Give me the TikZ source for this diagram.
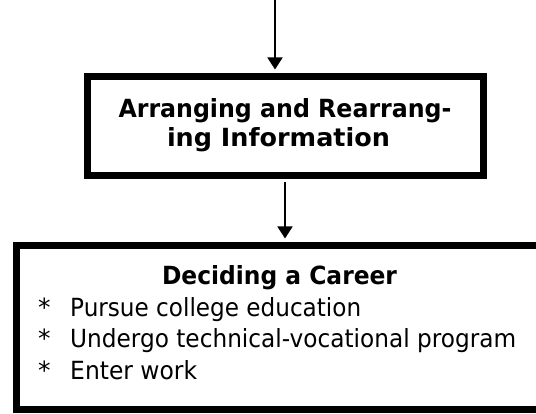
\documentclass[tikz,border=0pt]{standalone}
\usepackage{graphicx}
\usepackage{fontspec}
\setmainfont{DejaVu Sans}
\usetikzlibrary{arrows.meta}
\newlength\fitlen
\newcommand\fitw[2]{\settowidth\fitlen{#2}\pgfmathsetmacro\fitratio{#1/\fitlen}\scalebox{\fitratio}[1]{#2}}
\tikzset{
  thickbox/.style={draw=black, line width=7pt, inner sep=0pt},
  arr/.style={line width=1.7pt, -{Triangle[width=15pt,length=12pt]}},
  headtxt/.style={font=\fontsize{25}{31}\selectfont\bfseries, inner sep=0pt},
  itemtxt/.style={font=\fontsize{25}{31}\selectfont, inner sep=0pt, anchor=base west},
}
\begin{document}
\begin{tikzpicture}[x=1pt,y=-1pt]
\useasboundingbox (0,0) rectangle (536,414);
\coordinate (start) at (275,0);
\node[thickbox, minimum width=396pt, minimum height=99pt] (b1) at (285.5,126) {};
\node[thickbox, minimum width=540pt, minimum height=164pt] (b2) at (286,327.5) {};
\node[headtxt, anchor=base] (l1) at (285,118) {\fitw{333}{Arranging and Rearrang-}};
\node[headtxt, anchor=base] (l2) at (278.5,147) {\fitw{223}{ing Information}};
\draw[arr] (start) -- ([yshift=3.5pt]b1.north -| start);
\draw[arr] ([yshift=-3.5pt]b1.south -| 285,0) -- ([yshift=3.5pt]b2.north -| 285,0);
\node[headtxt, anchor=base] (h2) at (279.5,285) {\fitw{235}{Deciding a Career}};
\node[itemtxt] (s1) at (38,317) {*};
\node[itemtxt] (t1) at (70,317) {\fitw{291}{Pursue college education}};
\node[itemtxt] (s2) at (38,348) {*};
\node[itemtxt] (t2) at (70,348) {\fitw{446}{Undergo technical-vocational program}};
\node[itemtxt] (s3) at (38,380) {*};
\node[itemtxt] (t3) at (70,380) {\fitw{127}{Enter work}};
\end{tikzpicture}
\end{document}
